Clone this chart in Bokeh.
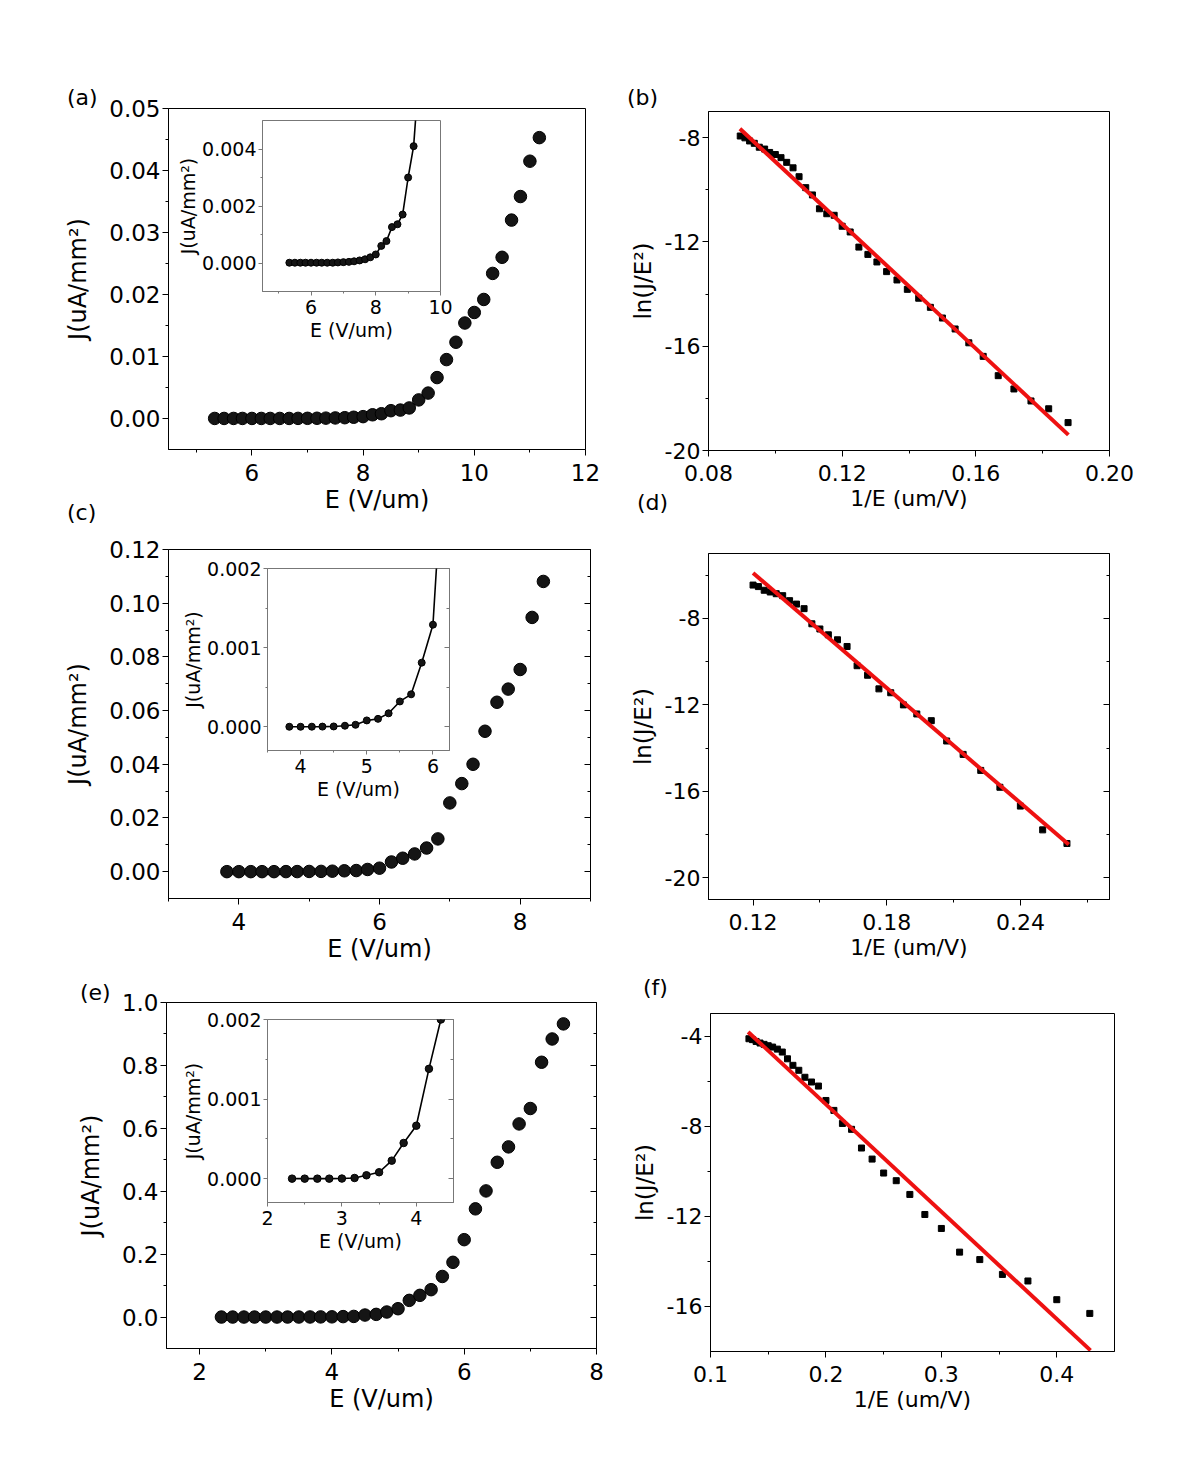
from bokeh.plotting import figure
from bokeh.models import (Range1d, FixedTicker, NumeralTickFormatter, LinearAxis,
                          CustomJSTickFormatter, GridBox, Div)
from bokeh.embed import file_html
from bokeh.resources import INLINE

FONT = "DejaVu Sans"
OFF = 0  # page offset of the grid origin
# common borders (the grid aligns borders of all plots in one cell)
BL, BR, BT, BB = 135, 25, 22, 90

# ---------------- data ----------------
# (a) J-E, sample 1
a_E = [5.33, 5.5, 5.67, 5.83, 6.0, 6.17, 6.33, 6.5, 6.67, 6.83, 7.0, 7.17, 7.33, 7.5, 7.67, 7.83,
       8.0, 8.17, 8.33, 8.5, 8.67, 8.83, 9.0, 9.17, 9.33, 9.5, 9.67, 9.83, 10.0, 10.17, 10.33,
       10.5, 10.67, 10.83, 11.0, 11.17]
a_J = [0.00001, 0.00001, 0.00001, 0.00001, 0.00001, 0.00001, 0.00001, 0.00001, 0.00001, 0.00002,
       0.00003, 0.00004, 0.00006, 0.00009, 0.00013, 0.0002, 0.0003, 0.0006, 0.00077, 0.00126,
       0.00136, 0.0017, 0.003, 0.0041, 0.0066, 0.0095, 0.0123, 0.0154, 0.0171, 0.0192, 0.0234,
       0.026, 0.032, 0.0358, 0.0415, 0.0453]
# (b) F-N plot, sample 1
b_x = [0.0895, 0.0909, 0.0923, 0.0937, 0.0952, 0.0968, 0.0983, 0.1, 0.1017, 0.1034, 0.1053,
       0.1071, 0.1091, 0.1111, 0.1132, 0.1154, 0.1176, 0.12, 0.1224, 0.125, 0.1277, 0.1304,
       0.1333, 0.1364, 0.1395, 0.1429, 0.1464, 0.15, 0.1538, 0.1579, 0.1622, 0.1667, 0.1714,
       0.1765, 0.1818, 0.1876]
b_y = [-7.94, -8.01, -8.13, -8.22, -8.37, -8.44, -8.57, -8.65, -8.77, -8.95, -9.16, -9.50,
       -9.92, -10.20, -10.73, -10.92, -10.98, -11.40, -11.62, -12.20, -12.48, -12.77, -13.14,
       -13.46, -13.82, -14.16, -14.51, -14.92, -15.34, -15.87, -16.39, -17.13, -17.64, -18.10,
       -18.40, -18.93]
b_fit_x = [0.0894, 0.1877]
b_fit_y = [-7.66, -19.40]
# (c) J-E, sample 2
c_E = [3.83, 4.0, 4.17, 4.33, 4.5, 4.67, 4.83, 5.0, 5.17, 5.33, 5.5, 5.67, 5.83, 6.0, 6.17,
       6.33, 6.5, 6.67, 6.83, 7.0, 7.17, 7.33, 7.5, 7.67, 7.83, 8.0, 8.17, 8.33]
c_J = [0.0, 0.0, 0.000001, 0.000002, 0.000004, 0.000013, 0.000025, 0.00008, 0.0001, 0.00017,
       0.00032, 0.00041, 0.00081, 0.00129, 0.0036, 0.005, 0.0066, 0.0088, 0.0122, 0.0256,
       0.0328, 0.04, 0.0523, 0.0631, 0.068, 0.0753, 0.0947, 0.1081]
# (d) F-N plot, sample 2
d_x = [0.12, 0.1224, 0.125, 0.1277, 0.1304, 0.1333, 0.1364, 0.1395, 0.1429, 0.1464, 0.15,
       0.1538, 0.1579, 0.1622, 0.1667, 0.1714, 0.1765, 0.1818, 0.1875, 0.1935, 0.2, 0.2069,
       0.2143, 0.2222, 0.2308, 0.24, 0.25, 0.2609]
d_y = [-6.46, -6.53, -6.70, -6.78, -6.86, -6.95, -7.18, -7.34, -7.55, -8.25, -8.49, -8.76,
       -8.99, -9.30, -10.19, -10.63, -11.26, -11.44, -12.00, -12.42, -12.73, -13.67, -14.29,
       -15.03, -15.81, -16.68, -17.78, -18.41]
d_fit_x = [0.12, 0.2617]
d_fit_y = [-5.90, -18.46]
# (e) J-E, sample 3
e_E = [2.33, 2.5, 2.67, 2.83, 3.0, 3.17, 3.33, 3.5, 3.67, 3.83, 4.0, 4.17, 4.33, 4.5, 4.67,
       4.83, 5.0, 5.17, 5.33, 5.5, 5.67, 5.83, 6.0, 6.17, 6.33, 6.5, 6.67, 6.83, 7.0, 7.17,
       7.33, 7.5]
e_J = [0.0, 0.0, 0.0, 0.0, 0.000001, 0.000008, 0.000042, 0.00008, 0.000226, 0.000448,
       0.000665, 0.00138, 0.002, 0.0064, 0.0085, 0.016, 0.0265, 0.053, 0.069, 0.087, 0.129,
       0.174, 0.246, 0.344, 0.401, 0.492, 0.541, 0.614, 0.663, 0.81, 0.884, 0.932]
# (f) F-N plot, sample 3
f_x = [0.1333, 0.1364, 0.1395, 0.1429, 0.1464, 0.15, 0.1538, 0.1579, 0.1622, 0.1667, 0.1714,
       0.1765, 0.1818, 0.1875, 0.1935, 0.2, 0.2069, 0.2143, 0.2222, 0.2308, 0.24, 0.25,
       0.2609, 0.2727, 0.2857, 0.3, 0.3158, 0.3333, 0.3529, 0.375, 0.4, 0.4286]
f_y = [-4.12, -4.16, -4.24, -4.31, -4.37, -4.43, -4.49, -4.58, -4.71, -5.01, -5.30, -5.52,
       -5.83, -6.04, -6.22, -6.86, -7.30, -7.88, -8.14, -8.97, -9.46, -10.08, -10.42, -11.03,
       -11.92, -12.54, -13.59, -13.92, -14.58, -14.87, -15.70, -16.31]
f_fit_x = [0.1326, 0.4292]
f_fit_y = [-3.82, -17.95]

# ticks
a_xt, a_xm = [6, 8, 10, 12], [5, 7, 9, 11]
a_yt = [0.0, 0.01, 0.02, 0.03, 0.04, 0.05]
a_ym = [0.005, 0.015, 0.025, 0.035, 0.045]
ai_xt, ai_xm = [6, 8, 10], [5, 7, 9]
ai_yt, ai_ym = [0.0, 0.002, 0.004], [0.001, 0.003]
b_xt, b_xm = [0.08, 0.12, 0.16, 0.20], [0.10, 0.14, 0.18]
b_yt, b_ym = [-20, -16, -12, -8], [-18, -14, -10]
c_xt, c_xm = [4, 6, 8], [3, 5, 7, 9]
c_yt = [0.0, 0.02, 0.04, 0.06, 0.08, 0.10, 0.12]
c_ym = [0.01, 0.03, 0.05, 0.07, 0.09, 0.11]
ci_xt, ci_xm = [4, 5, 6], [3.5, 4.5, 5.5]
ci_yt, ci_ym = [0.0, 0.001, 0.002], [0.0005, 0.0015]
d_xt, d_xm = [0.12, 0.18, 0.24], [0.15, 0.21, 0.27]
d_yt, d_ym = [-20, -16, -12, -8], [-18, -14, -10, -6]
e_xt, e_xm = [2, 4, 6, 8], [3, 5, 7]
e_yt = [0.0, 0.2, 0.4, 0.6, 0.8, 1.0]
e_ym = [0.1, 0.3, 0.5, 0.7, 0.9]
ei_xt, ei_xm = [2, 3, 4], [2.5, 3.5]
ei_yt, ei_ym = [0.0, 0.001, 0.002], [0.0005, 0.0015]
f_xt, f_xm = [0.1, 0.2, 0.3, 0.4], [0.15, 0.25, 0.35]
f_yt, f_ym = [-16, -12, -8, -4], [-14, -10, -6]

JE_X = "E (V/um)"
JE_Y = "J(uA/mm²)"
FN_X = "1/E (um/V)"
FN_Y = "ln(J/E²)"


def base_fig(frame, xr, yr, frame_color="black"):
    left, top, right, bottom = frame
    p = figure(frame_width=right - left, frame_height=bottom - top,
               x_range=Range1d(*xr), y_range=Range1d(*yr),
               output_backend="svg", toolbar_location=None,
               min_border_left=BL, min_border_right=BR, min_border_top=BT, min_border_bottom=BB,
               border_fill_color=None, background_fill_color="white",
               outline_line_color=frame_color, outline_line_width=1)
    p.xgrid.visible = False
    p.ygrid.visible = False
    p.margin = (top - OFF - BT, 0, 0, left - OFF - BL)
    p.align = "start"
    return p


def style(ax, ticks, minor, fmt, label, fs, tfs, lstand, tstand, tout, mout, color="black"):
    ax.ticker = FixedTicker(ticks=ticks, minor_ticks=minor)
    ax.formatter = NumeralTickFormatter(format=fmt)
    ax.axis_label = label
    ax.major_label_text_font = FONT
    ax.major_label_text_font_size = f"{fs}px"
    ax.major_label_text_color = "black"
    ax.axis_label_text_font = FONT
    ax.axis_label_text_font_size = f"{tfs}px"
    ax.axis_label_text_font_style = "normal"
    ax.axis_label_text_color = "black"
    ax.major_label_standoff = lstand
    ax.axis_label_standoff = tstand
    ax.major_tick_in = 0
    ax.major_tick_out = tout
    ax.minor_tick_in = 0
    ax.minor_tick_out = mout
    ax.axis_line_color = color
    ax.major_tick_line_color = color
    ax.minor_tick_line_color = color


def mirror_right(p, ticks, minor, tin, mnin, color="black"):
    ax = LinearAxis(ticker=FixedTicker(ticks=ticks, minor_ticks=minor),
                    formatter=CustomJSTickFormatter(code="return ''"),
                    major_tick_in=tin, major_tick_out=0, minor_tick_in=mnin, minor_tick_out=0,
                    axis_line_color=color, major_tick_line_color=color,
                    minor_tick_line_color=color, major_label_text_font_size="1px")
    p.add_layout(ax, "right")


def je_main(frame, xr, yr, E, J, xt, xm, yt, ym, xfmt, yfmt, mirror, fs=23, tfs=24):
    p = base_fig(frame, xr, yr)
    style(p.xaxis[0], xt, xm, xfmt, JE_X, fs, tfs, 8, 2, 6, 3)
    style(p.yaxis[0], yt, ym, yfmt, JE_Y, fs, tfs, 2, 14, 6, 3)
    if mirror:
        mirror_right(p, yt, ym, 6, 3)
    p.scatter(E, J, size=12.5, marker="circle", fill_color="#151515", line_color="#000000",
              line_width=1)
    return p


def je_inset(frame, xr, yr, E, J, xt, xm, yt, ym, xfmt, yfmt, mirror, msize):
    ic = "#777777"
    p = base_fig(frame, xr, yr, ic)
    style(p.xaxis[0], xt, xm, xfmt, JE_X, 19, 19, 4, 2, 4, 2, ic)
    style(p.yaxis[0], yt, ym, yfmt, JE_Y, 19, 19, 2, 0, 4, 2, ic)
    if mirror:
        mirror_right(p, yt, ym, 5, 3, ic)
    p.line(E, J, line_color="black", line_width=1.6)
    p.scatter(E, J, size=msize, marker="circle", fill_color="#151515", line_color="#000000")
    return p


def fn_main(frame, xr, yr, x, y, fx, fy, xt, xm, yt, ym, xfmt, mirror):
    p = base_fig(frame, xr, yr)
    style(p.xaxis[0], xt, xm, xfmt, FN_X, 22, 22, 8, 2, 6, 3)
    style(p.yaxis[0], yt, ym, "0", FN_Y, 22, 23, 2, 6, 6, 3)
    if mirror:
        mirror_right(p, yt, ym, 6, 3)
    p.scatter(x, y, marker="square", size=6, fill_color="black", line_color="black")
    p.line(fx, fy, line_color="#ee1111", line_width=4)
    return p


pa = je_main((168, 108, 585, 449), (4.5, 12), (-0.005, 0.05), a_E, a_J,
             a_xt, a_xm, a_yt, a_ym, "0", "0.00", False)
pai = je_inset((262, 120, 440, 291), (4.5, 10), (-0.001, 0.005), a_E, a_J,
               ai_xt, ai_xm, ai_yt, ai_ym, "0", "0.000", False, 7)
pb = fn_main((708, 111, 1109, 450), (0.08, 0.20), (-20, -7), b_x, b_y, b_fit_x, b_fit_y,
             b_xt, b_xm, b_yt, b_ym, "0.00", False)
pc = je_main((168, 549, 590, 898), (3, 9), (-0.01, 0.12), c_E, c_J,
             c_xt, c_xm, c_yt, c_ym, "0", "0.00", True)
pci = je_inset((267, 568, 449, 750), (3.5, 6.25), (-0.0003, 0.002), c_E, c_J,
               ci_xt, ci_xm, ci_yt, ci_ym, "0", "0.000", True, 7)
pd = fn_main((708, 553, 1109, 899), (0.10, 0.28), (-21, -5), d_x, d_y, d_fit_x, d_fit_y,
             d_xt, d_xm, d_yt, d_ym, "0.00", True)
pe = je_main((166, 1002, 596, 1348), (1.5, 8), (-0.1, 1.0), e_E, e_J,
             e_xt, e_xm, e_yt, e_ym, "0", "0.0", True)
pei = je_inset((267, 1019, 453, 1202), (2, 4.5), (-0.0003, 0.002), e_E, e_J,
               ei_xt, ei_xm, ei_yt, ei_ym, "0", "0.000", True, 7.5)
pf = fn_main((710, 1013, 1114, 1351), (0.1, 0.45), (-18, -3), f_x, f_y, f_fit_x, f_fit_y,
             f_xt, f_xm, f_yt, f_ym, "0.0", False)


def panel_label(txt, x, y):
    return Div(text=txt, width=40, height=28, margin=(y - OFF - 3, 0, 0, x - OFF),
               align="start",
               styles={"font-family": FONT, "font-size": "22px", "line-height": "1.15",
                       "color": "black"})


labels = [panel_label("(a)", 67, 88), panel_label("(b)", 627, 88),
          panel_label("(c)", 67, 503), panel_label("(d)", 637, 493),
          panel_label("(e)", 80, 983), panel_label("(f)", 643, 978)]

items = [pa, pb, pc, pd, pe, pf, pai, pci, pei] + labels
grid = GridBox(children=[(it, 0, 0) for it in items])

open("out.html", "w").write(file_html(grid, INLINE))
